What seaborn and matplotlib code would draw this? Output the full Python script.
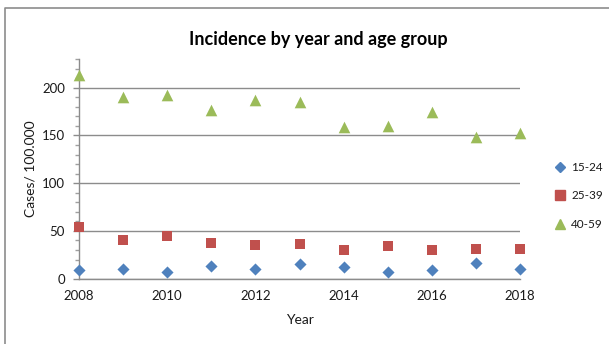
import matplotlib
matplotlib.use("Agg")
import matplotlib.pyplot as plt
from matplotlib.lines import Line2D
from matplotlib.ticker import MultipleLocator
import pandas as pd
import seaborn as sns

years = list(range(2008, 2019))
age_groups = ["15-24", "25-39", "40-59"]
rate_15_24 = [8.8, 9.8, 6.7, 13.0, 9.8, 15.4, 12.3, 6.7, 9.0, 16.8, 10.0]
rate_25_39 = [54.5, 40.0, 45.0, 37.0, 35.0, 36.0, 30.0, 34.6, 30.4, 31.5, 30.8]
rate_40_59 = [213.0, 190.0, 192.0, 177.0, 187.0, 185.0, 158.5, 160.0, 175.0, 148.0, 153.0]
x_ticks = [2008, 2010, 2012, 2014, 2016, 2018]
y_ticks = [0, 50, 100, 150, 200]

palette = {"15-24": "#4F81BD", "25-39": "#C0504D", "40-59": "#9BBB59"}
markers = {"15-24": "D", "25-39": "s", "40-59": "^"}
sizes = {"15-24": 38, "25-39": 62, "40-59": 70}

df = pd.DataFrame({
    "Year": years * 3,
    "Rate": rate_15_24 + rate_25_39 + rate_40_59,
    "Group": [g for g in age_groups for _ in years],
})

sns.set_theme(style="white")
plt.rcParams["font.family"] = ["Lato", "DejaVu Sans"]

fig = plt.figure(figsize=(6.09, 3.44), dpi=100)
ax = fig.add_axes([79 / 609, 1 - 278.7 / 344, 441 / 609, (278.7 - 59) / 344])

for g in age_groups:
    sub = df[df["Group"] == g]
    sns.scatterplot(data=sub, x="Year", y="Rate", color=palette[g],
                    marker=markers[g], s=sizes[g], linewidth=0,
                    clip_on=False, zorder=3, ax=ax, legend=False)

ax.set_xlim(2008, 2018)
ax.set_ylim(0, 230)
ax.set_xticks(x_ticks)
ax.set_yticks(y_ticks)
ax.yaxis.set_minor_locator(MultipleLocator(10))
ax.grid(axis="y", color="#8c8c8c", linewidth=1.0)
ax.set_axisbelow(True)

for side in ["top", "right"]:
    ax.spines[side].set_visible(False)
for side in ["left", "bottom"]:
    ax.spines[side].set_color("#8c8c8c")
    ax.spines[side].set_linewidth(1.0)

ax.tick_params(axis="y", which="major", direction="out", length=4, width=1,
               color="#8c8c8c", labelsize=9.5, labelcolor="#1a1a1a", pad=6, left=True)
ax.tick_params(axis="y", which="minor", direction="out", length=3, width=1,
               color="#a0a0a0", left=True)
ax.tick_params(axis="x", length=0, labelsize=9.5, labelcolor="#1a1a1a", pad=8)

ax.set_xlabel("Year", fontsize=10, color="#1a1a1a", labelpad=9)
ax.set_ylabel("Cases/ 100.000", fontsize=10, color="#1a1a1a", labelpad=4)

fig.text(318 / 609, 1 - 39 / 344, "Incidence by year and age group",
         ha="center", va="center", fontsize=13, fontweight="bold", color="#000000")

handles = [Line2D([], [], linestyle="none", marker=markers[g], color=palette[g],
                  markersize={"15-24": 5.5, "25-39": 7, "40-59": 7.5}[g])
           for g in age_groups]
fig.legend(handles, age_groups, loc="upper left",
           bbox_to_anchor=(551 / 609, 1 - 157 / 344), frameon=False,
           fontsize=8.5, handlelength=0.8, handletextpad=0.5, labelspacing=1.5,
           borderaxespad=0, labelcolor="#1a1a1a")

# chart frame (top and left edges)
fig.add_artist(Line2D([5 / 609, 5 / 609, 1.0], [0.0, 1 - 8 / 344, 1 - 8 / 344],
                      transform=fig.transFigure, color="#8c8c8c", linewidth=1.2))

fig.savefig("out.png", dpi=100, facecolor="white")
